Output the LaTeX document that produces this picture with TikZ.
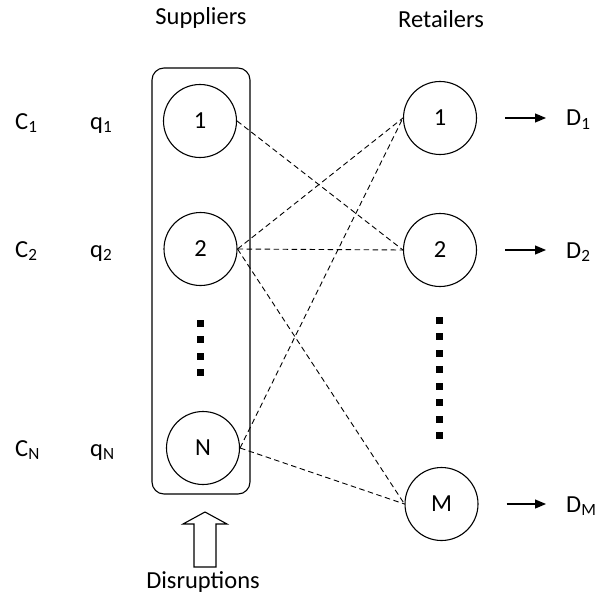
\documentclass[tikz,border=0pt]{standalone}
\usepackage{fontspec}
\setmainfont{Carlito}
\usetikzlibrary{arrows.meta}
\begin{document}
\begin{tikzpicture}[x=1pt,y=-1pt,
  font=\fontsize{24.5}{29}\selectfont,
  circ/.style={draw, circle, line width=1.1pt, minimum size=73pt, inner sep=0pt},
  link/.style={line width=0.9pt, dash pattern=on 5.5pt off 3.5pt},
  dotsq/.style={fill=black, minimum size=7pt, inner sep=0pt},
  lbl/.style={anchor=base west, inner sep=0pt},
  ttl/.style={anchor=base, inner sep=0pt},
  arr/.style={line width=1.2pt, -{Triangle[length=11pt,width=9pt]}}]
\useasboundingbox (0,0) rectangle (602,599);

% titles
\node[ttl] (tsup) at (201,25) {Suppliers};
\node[ttl] (tret) at (441,28) {Retailers};

% supplier group box
\node[draw, rounded corners=12pt, line width=1.1pt, minimum width=98pt, minimum height=426pt, inner sep=0pt] (grp) at (201,281) {};

% suppliers
\node[circ] (s1) at (200,121) {1};
\node[circ] (s2) at (200.5,249) {2};
\node[circ] (sn) at (203,448) {N};

% retailers
\node[circ] (r1) at (440,118) {1};
\node[circ] (r2) at (440,250) {2};
\node[circ] (rm) at (441.5,504) {M};

% dots
\foreach \y [count=\k] in {323,339.5,356,372.5}
  \node[dotsq] (sd\k) at (200.5,\y) {};
\foreach \k in {0,...,7}
  \node[dotsq] (rd\k) at (439.5,{320+16.5*\k}) {};

% left labels
\node[lbl] (c1) at (15,129) {C\textsubscript{1}};
\node[lbl] (q1) at (90,129) {q\textsubscript{1}};
\node[lbl] (c2) at (15,257) {C\textsubscript{2}};
\node[lbl] (q2) at (90,257) {q\textsubscript{2}};
\node[lbl] (cn) at (15,456) {C\textsubscript{N}};
\node[lbl] (qn) at (90,456) {q\textsubscript{N}};

% demand labels
\node[lbl] (d1) at (566,126) {D\textsubscript{1}};
\node[lbl] (d2) at (566,258) {D\textsubscript{2}};
\node[lbl] (dm) at (566,512) {D\textsubscript{M}};

% demand arrows
\draw[arr, shorten <=28pt, shorten >=20pt] (r1.east) -- (r1.east -| d1.west);
\draw[arr, shorten <=28pt, shorten >=20pt] (r2.east) -- (r2.east -| d2.west);
\draw[arr, shorten <=28pt, shorten >=20pt] (rm.east) -- (rm.east -| dm.west);

% links
\draw[link] (s1.east) -- (r2.west);
\draw[link] (s2.east) -- (r1.west);
\draw[link] (s2.east) -- (r2.west);
\draw[link] (s2.east) -- (rm.west);
\draw[link] (sn.east) -- (r1.west);
\draw[link] (sn.east) -- (rm.west);

% disruptions
\node[ttl] (dis) at (203,588) {Disruptions};
\coordinate (tip) at (205,512);
\draw[line width=1.1pt] (tip) -- ++(22,12) -- ++(-11,0) -- ++(0,43) -- ++(-22,0) -- ++(0,-43) -- ++(-11,0) -- cycle;
\end{tikzpicture}
\end{document}
